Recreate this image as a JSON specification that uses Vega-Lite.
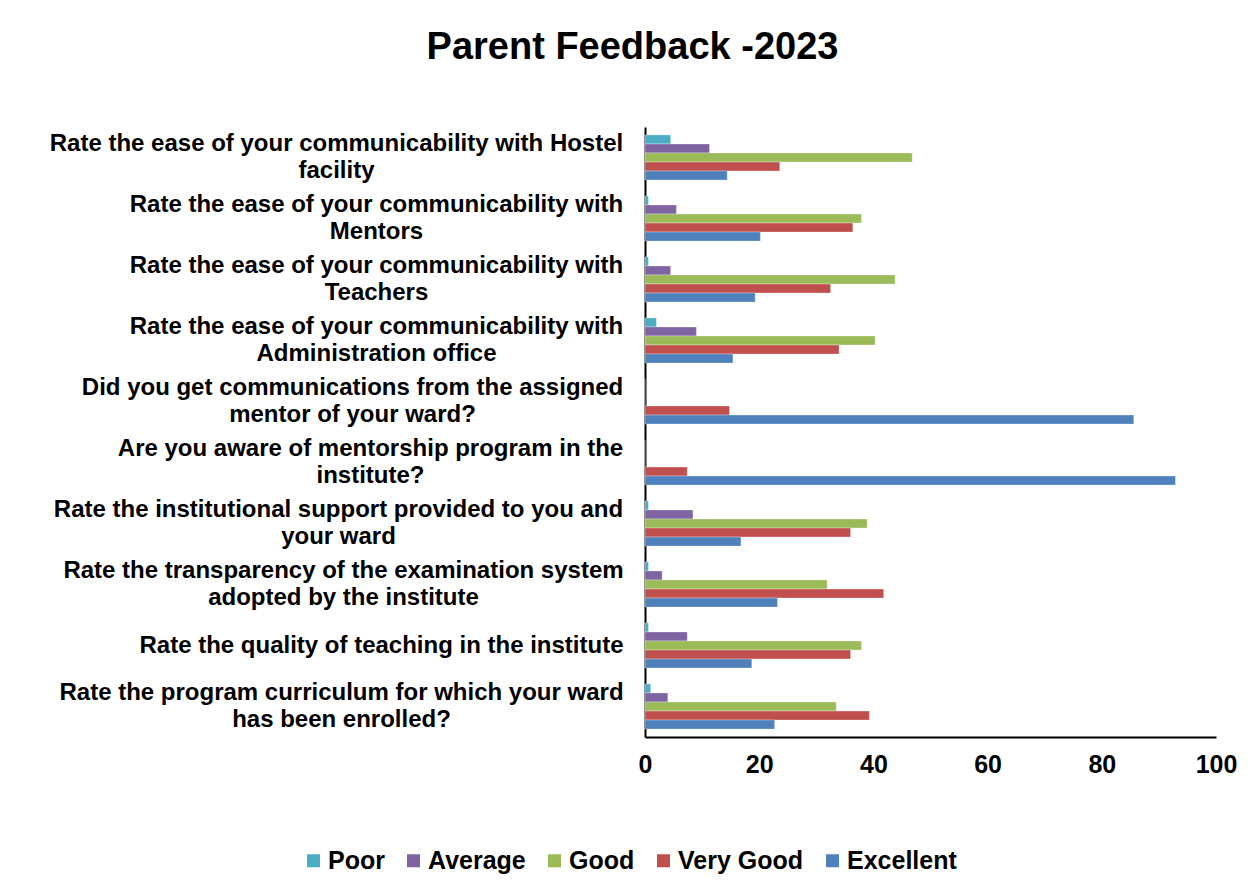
{
  "$schema": "https://vega.github.io/schema/vega-lite/v6.json",
  "autosize": {"type": "none"},
  "width": 571,
  "height": 610,
  "padding": {"left": 645, "top": 127, "right": 36, "bottom": 155},
  "background": "white",
  "title": {
    "text": "Parent Feedback -2023",
    "font": "Liberation Sans",
    "fontSize": 38,
    "fontWeight": "bold",
    "color": "black",
    "anchor": "middle",
    "frame": "group",
    "dx": -298,
    "offset": 60
  },
  "data": {
    "values": [
      {"q": "Rate the ease of your communicability with Hostel|facility", "r": "Poor", "v": 4.5},
      {"q": "Rate the ease of your communicability with Hostel|facility", "r": "Average", "v": 11.3},
      {"q": "Rate the ease of your communicability with Hostel|facility", "r": "Good", "v": 46.8},
      {"q": "Rate the ease of your communicability with Hostel|facility", "r": "Very Good", "v": 23.6},
      {"q": "Rate the ease of your communicability with Hostel|facility", "r": "Excellent", "v": 14.4},
      {"q": "Rate the ease of your communicability with|Mentors", "r": "Poor", "v": 0.6},
      {"q": "Rate the ease of your communicability with|Mentors", "r": "Average", "v": 5.5},
      {"q": "Rate the ease of your communicability with|Mentors", "r": "Good", "v": 37.9},
      {"q": "Rate the ease of your communicability with|Mentors", "r": "Very Good", "v": 36.4},
      {"q": "Rate the ease of your communicability with|Mentors", "r": "Excellent", "v": 20.2},
      {"q": "Rate the ease of your communicability with|Teachers", "r": "Poor", "v": 0.6},
      {"q": "Rate the ease of your communicability with|Teachers", "r": "Average", "v": 4.5},
      {"q": "Rate the ease of your communicability with|Teachers", "r": "Good", "v": 43.8},
      {"q": "Rate the ease of your communicability with|Teachers", "r": "Very Good", "v": 32.5},
      {"q": "Rate the ease of your communicability with|Teachers", "r": "Excellent", "v": 19.3},
      {"q": "Rate the ease of your communicability with|Administration office", "r": "Poor", "v": 2.0},
      {"q": "Rate the ease of your communicability with|Administration office", "r": "Average", "v": 9.0},
      {"q": "Rate the ease of your communicability with|Administration office", "r": "Good", "v": 40.3},
      {"q": "Rate the ease of your communicability with|Administration office", "r": "Very Good", "v": 34.0},
      {"q": "Rate the ease of your communicability with|Administration office", "r": "Excellent", "v": 15.4},
      {"q": "Did you get communications from the assigned|mentor of your ward?", "r": "Poor", "v": 0},
      {"q": "Did you get communications from the assigned|mentor of your ward?", "r": "Average", "v": 0},
      {"q": "Did you get communications from the assigned|mentor of your ward?", "r": "Good", "v": 0},
      {"q": "Did you get communications from the assigned|mentor of your ward?", "r": "Very Good", "v": 14.8},
      {"q": "Did you get communications from the assigned|mentor of your ward?", "r": "Excellent", "v": 85.6},
      {"q": "Are you aware of mentorship program in the|institute?", "r": "Poor", "v": 0},
      {"q": "Are you aware of mentorship program in the|institute?", "r": "Average", "v": 0},
      {"q": "Are you aware of mentorship program in the|institute?", "r": "Good", "v": 0},
      {"q": "Are you aware of mentorship program in the|institute?", "r": "Very Good", "v": 7.4},
      {"q": "Are you aware of mentorship program in the|institute?", "r": "Excellent", "v": 92.9},
      {"q": "Rate the institutional support provided to you and|your ward", "r": "Poor", "v": 0.6},
      {"q": "Rate the institutional support provided to you and|your ward", "r": "Average", "v": 8.4},
      {"q": "Rate the institutional support provided to you and|your ward", "r": "Good", "v": 38.9},
      {"q": "Rate the institutional support provided to you and|your ward", "r": "Very Good", "v": 36.0},
      {"q": "Rate the institutional support provided to you and|your ward", "r": "Excellent", "v": 16.8},
      {"q": "Rate the transparency of the examination system|adopted by the institute", "r": "Poor", "v": 0.6},
      {"q": "Rate the transparency of the examination system|adopted by the institute", "r": "Average", "v": 3.0},
      {"q": "Rate the transparency of the examination system|adopted by the institute", "r": "Good", "v": 31.9},
      {"q": "Rate the transparency of the examination system|adopted by the institute", "r": "Very Good", "v": 41.8},
      {"q": "Rate the transparency of the examination system|adopted by the institute", "r": "Excellent", "v": 23.2},
      {"q": "Rate the quality of teaching in the institute", "r": "Poor", "v": 0.6},
      {"q": "Rate the quality of teaching in the institute", "r": "Average", "v": 7.4},
      {"q": "Rate the quality of teaching in the institute", "r": "Good", "v": 37.9},
      {"q": "Rate the quality of teaching in the institute", "r": "Very Good", "v": 36.0},
      {"q": "Rate the quality of teaching in the institute", "r": "Excellent", "v": 18.7},
      {"q": "Rate the program curriculum for which your ward|has been enrolled?", "r": "Poor", "v": 1.0},
      {"q": "Rate the program curriculum for which your ward|has been enrolled?", "r": "Average", "v": 4.0},
      {"q": "Rate the program curriculum for which your ward|has been enrolled?", "r": "Good", "v": 33.5},
      {"q": "Rate the program curriculum for which your ward|has been enrolled?", "r": "Very Good", "v": 39.3},
      {"q": "Rate the program curriculum for which your ward|has been enrolled?", "r": "Excellent", "v": 22.7}
    ]
  },
  "mark": {"type": "bar", "stroke": "white", "strokeOpacity": 0.6, "strokeWidth": 0.5},
  "encoding": {
    "y": {
      "field": "q",
      "type": "nominal",
      "sort": null,
      "scale": {"paddingInner": 0.26, "paddingOuter": 0.13},
      "axis": {
        "title": null,
        "labelExpr": "split(datum.label, '|')",
        "labelFont": "Liberation Sans",
        "labelFontSize": 24,
        "labelFontWeight": "bold",
        "labelColor": "black",
        "labelLimit": 700,
        "labelLineHeight": 27,
        "labelAlign": "center",
        "labelPadding": {
          "condition": [
            {"test": "indexof(datum.value, 'Hostel') >= 0", "value": 309},
            {"test": "indexof(datum.value, 'Did you get') >= 0", "value": 293},
            {"test": "indexof(datum.value, 'Are you aware') >= 0", "value": 275},
            {"test": "indexof(datum.value, 'institutional support') >= 0", "value": 307},
            {"test": "indexof(datum.value, 'transparency') >= 0", "value": 302},
            {"test": "indexof(datum.value, 'quality of teaching') >= 0", "value": 264},
            {"test": "indexof(datum.value, 'program curriculum') >= 0", "value": 304}
          ],
          "value": 269
        },
        "labelOffset": {
          "condition": {"test": "indexof(datum.value, '|') >= 0", "value": -14},
          "value": 0
        },
        "ticks": false,
        "domainColor": "black",
        "domainWidth": 2
      }
    },
    "yOffset": {
      "field": "r",
      "type": "nominal",
      "sort": ["Poor", "Average", "Good", "Very Good", "Excellent"]
    },
    "x": {
      "field": "v",
      "type": "quantitative",
      "scale": {"domain": [0, 100]},
      "axis": {
        "title": null,
        "values": [0, 20, 40, 60, 80, 100],
        "grid": false,
        "ticks": false,
        "labelFont": "Liberation Sans",
        "labelFontSize": 25,
        "labelFontWeight": "bold",
        "labelColor": "black",
        "labelPadding": 15,
        "labelFlush": false,
        "domainColor": "black",
        "domainWidth": 2
      }
    },
    "color": {
      "field": "r",
      "type": "nominal",
      "sort": ["Poor", "Average", "Good", "Very Good", "Excellent"],
      "scale": {
        "domain": ["Poor", "Average", "Good", "Very Good", "Excellent"],
        "range": ["#4BACC6", "#8064A2", "#9BBB59", "#C0504D", "#4F81BD"]
      },
      "legend": {
        "title": null,
        "orient": "none",
        "direction": "horizontal",
        "legendX": -344,
        "legendY": 721,
        "symbolType": "square",
        "symbolSize": 169,
        "symbolStrokeWidth": 0,
        "symbolOpacity": 1,
        "labelFont": "Liberation Sans",
        "labelFontSize": 25,
        "labelFontWeight": "bold",
        "labelColor": "black",
        "labelOffset": 2,
        "columnPadding": 16,
        "labelLimit": 300
      }
    }
  },
  "config": {
    "view": {"stroke": null}
  }
}
